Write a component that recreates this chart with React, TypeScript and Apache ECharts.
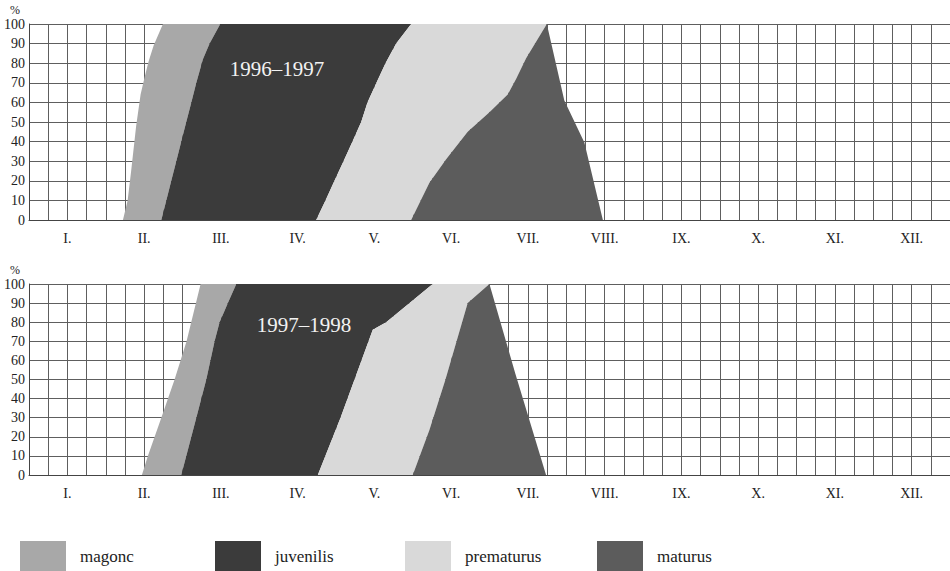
import React, { useEffect, useRef } from 'react';
import * as echarts from 'echarts';

// Month tick labels (Roman numerals), one per month along the season
const months = ['I.', 'II.', 'III.', 'IV.', 'V.', 'VI.', 'VII.', 'VIII.', 'IX.', 'X.', 'XI.', 'XII.'];

// Developmental stages, in order of appearance
const stages = ['magonc', 'juvenilis', 'prematurus', 'maturus'];

// Stage boundaries: [month (0 = 1 Jan, 12 = 31 Dec), cumulative %], listed from 0 % up to 100 %
// Season 1996–1997
const magoncFrom9697 = [[1.224, 0], [1.285, 10], [1.331, 25], [1.396, 48], [1.454, 64], [1.507, 73], [1.559, 81], [1.624, 89], [1.745, 100]];
const juvenilisFrom9697 = [[1.724, 0], [1.789, 10], [1.854, 20], [1.919, 30], [1.984, 40], [2.049, 50], [2.115, 60], [2.18, 70], [2.266, 82], [2.353, 90], [2.492, 100]];
const prematurusFrom9697 = [[3.742, 0], [3.863, 10], [3.98, 20], [4.098, 30], [4.215, 40], [4.328, 50], [4.41, 60], [4.527, 70], [4.645, 80], [4.784, 90], [4.979, 100]];
const maturusFrom9697 = [[4.979, 0], [5.217, 19], [5.435, 31], [5.716, 45], [5.999, 55], [6.237, 64], [6.346, 72], [6.477, 82.5], [6.607, 91], [6.747, 100]];
const maturusUntil9697 = [[7.477, 0], [7.236, 39.5], [6.975, 61], [6.747, 100]];

// Season 1997–1998
const magoncFrom9798 = [[1.471, 0], [1.549, 10], [1.724, 30], [1.897, 50], [2.053, 70], [2.236, 100]];
const juvenilisFrom9798 = [[1.984, 0], [2.18, 30], [2.31, 50], [2.418, 70], [2.483, 80], [2.548, 86], [2.591, 90], [2.701, 100]];
const prematurusFrom9798 = [[3.763, 0], [4.059, 30], [4.479, 76], [4.654, 80], [5.26, 100]];
const maturusFrom9798 = [[5.0, 0], [5.217, 23.6], [5.426, 50], [5.716, 90], [5.999, 100]];
const maturusUntil9798 = [[6.737, 0], [6.337, 53], [5.999, 100]];

const seasons = [
  { label: '1996–1997', edges: [magoncFrom9697, juvenilisFrom9697, prematurusFrom9697, maturusFrom9697, maturusUntil9697] },
  { label: '1997–1998', edges: [magoncFrom9798, juvenilisFrom9798, prematurusFrom9798, maturusFrom9798, maturusUntil9798] },
];

const SERIF = '"Liberation Serif", "DejaVu Serif", serif';
const fills: Record<string, string> = {
  magonc: '#a8a8a8',
  juvenilis: '#3b3b3b',
  prematurus: '#d9d9d9',
  maturus: '#5c5c5c',
};

// A band between two boundaries, drawn as one polygon in data coordinates
function bandSeries(name: string, left: number[][], right: number[][], gridIndex: number) {
  const outline = [...left, ...right.slice().reverse()];
  return {
    type: 'custom',
    name,
    xAxisIndex: gridIndex * 2,
    yAxisIndex: gridIndex,
    data: outline,
    encode: { x: 0, y: 1 },
    itemStyle: { color: fills[name] },
    clip: true,
    silent: true,
    renderItem: (params: any, api: any) => {
      if (params.dataIndex !== 0) return null;
      const points = outline.map((p) => api.coord(p));
      return { type: 'polygon', shape: { points }, style: { fill: fills[name] } };
    },
  };
}

export default function App() {
  const ref = useRef<HTMLDivElement>(null);

  useEffect(() => {
    if (!ref.current) return;
    const chart = echarts.init(ref.current, null, { renderer: 'svg' });

    const grids = [
      { left: 29, top: 24, width: 922, height: 196 },
      { left: 29, top: 284, width: 922, height: 191 },
    ];

    const xAxis: any[] = [];
    const yAxis: any[] = [];
    grids.forEach((_, i) => {
      xAxis.push({
        type: 'value',
        gridIndex: i,
        min: 0,
        max: 12,
        interval: 0.25,
        axisLabel: { show: false },
        axisTick: { show: false },
        axisLine: { show: true, lineStyle: { color: '#444', width: 1 } },
        splitLine: { show: true, lineStyle: { color: '#5e5e5e', width: 1 } },
      });
      xAxis.push({
        type: 'category',
        gridIndex: i,
        data: months,
        boundaryGap: true,
        position: 'bottom',
        axisLine: { show: false },
        axisTick: { show: false },
        splitLine: { show: false },
        axisLabel: { color: '#222', fontFamily: SERIF, fontSize: 14, margin: 11 },
      });
      yAxis.push({
        type: 'value',
        gridIndex: i,
        min: 0,
        max: 100,
        interval: 10,
        axisLine: { show: true, lineStyle: { color: '#444', width: 1 } },
        axisTick: { show: false },
        splitLine: { show: true, lineStyle: { color: '#5e5e5e', width: 1 } },
        axisLabel: { color: '#222', fontFamily: SERIF, fontSize: 14, margin: 4 },
      });
    });

    const series: any[] = [];
    seasons.forEach((s, i) => {
      stages.forEach((name, k) => {
        series.push(bandSeries(name, s.edges[k], s.edges[k + 1], i));
      });
    });

    const legendLeft = [20, 215, 405, 597];
    const legend = stages.map((name, k) => ({
      data: [name],
      left: legendLeft[k],
      top: 541,
      padding: 0,
      itemWidth: 46,
      itemHeight: 30,
      icon: 'rect',
      selectedMode: false,
      textStyle: { fontFamily: SERIF, fontSize: 17, color: '#222', padding: [0, 0, 0, 9] },
    }));

    const percentMark = (y: number) => ({
      type: 'text',
      x: 15,
      y,
      style: { text: '%', fill: '#222', fontFamily: SERIF, fontSize: 12, align: 'center', verticalAlign: 'bottom' },
    });

    chart.setOption({
      animation: false,
      backgroundColor: '#ffffff',
      grid: grids,
      xAxis,
      yAxis,
      series,
      legend,
      graphic: [
        percentMark(16),
        percentMark(276),
        { type: 'text', x: 277, y: 69, z: 100, style: { text: seasons[0].label, fill: '#f2f2f2', fontFamily: SERIF, fontSize: 21, align: 'center', verticalAlign: 'middle' } },
        { type: 'text', x: 304, y: 325, z: 100, style: { text: seasons[1].label, fill: '#f2f2f2', fontFamily: SERIF, fontSize: 21, align: 'center', verticalAlign: 'middle' } },
      ],
    });

    return () => chart.dispose();
  }, []);

  return <div ref={ref} style={{ position: 'absolute', left: 0, top: 0, width: 950, height: 571 }} />;
}
